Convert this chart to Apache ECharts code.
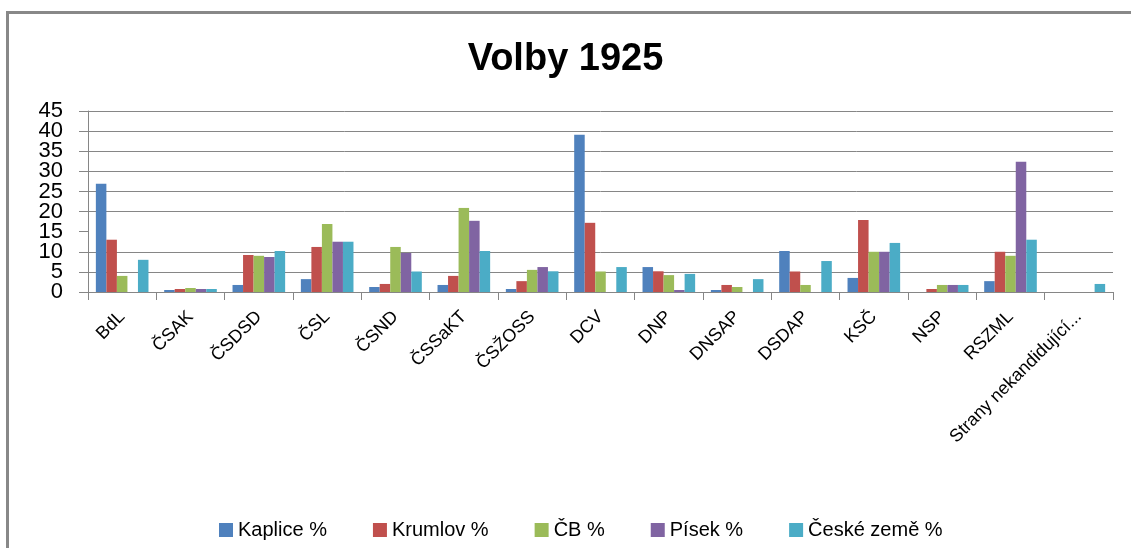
<!DOCTYPE html>
<html>
<head>
<meta charset="utf-8">
<script src="https://cdn.jsdelivr.net/npm/echarts@6/dist/echarts.min.js"></script>
<style>
  html, body { margin: 0; padding: 0; background: #fff; }
  #chart-container { width: 1131px; height: 548px; }
</style>
</head>
<body>
<div id="chart-container"></div>
<script>
var categories = ["BdL", "ČSAK", "ČSDSD", "ČSL", "ČSND", "ČSSaKT", "ČSŽOSS", "DCV",
  "DNP", "DNSAP", "DSDAP", "KSČ", "NSP", "RSZML", "Strany nekandidující..."];
var seriesNames = ["Kaplice %", "Krumlov %", "ČB %", "Písek %", "České země %"];
var kaplice = [26.9, 0.5, 1.75, 3.2, 1.25, 1.75, 0.75, 39.1, 6.2, 0.5, 10.2, 3.5, 0, 2.7, 0];
var krumlov = [13.0, 0.75, 9.2, 11.2, 2.0, 4.0, 2.7, 17.2, 5.15, 1.75, 5.1, 17.9, 0.75, 10.0, 0];
var cb = [4.0, 1.0, 9.0, 16.9, 11.2, 20.9, 5.5, 5.1, 4.2, 1.25, 1.75, 10.0, 1.75, 9.0, 0];
var pisek = [0, 0.75, 8.7, 12.5, 9.7, 17.7, 6.2, 0, 0.5, 0, 0, 10.0, 1.75, 32.4, 0];
var ceskeZeme = [8.0, 0.75, 10.2, 12.5, 5.1, 10.2, 5.15, 6.2, 4.5, 3.2, 7.7, 12.2, 1.75, 13.0, 2.0];
var yTicks = [0, 5, 10, 15, 20, 25, 30, 35, 40, 45];

var colors = ["#4F81BD", "#C0504D", "#9BBB59", "#8064A2", "#4BACC6"];
var values = [kaplice, krumlov, cb, pisek, ceskeZeme];
var font = "Liberation Sans";

var dom = document.getElementById("chart-container");
var myChart = echarts.init(dom, null, { renderer: "canvas" });

// the 15 gridline is absent in the original picture
var gridColors = yTicks.map(function (t) { return t === 15 ? "transparent" : "#868686"; });

// labels are packed tightly, so split them over two stacked axes (tens / fives)
function yLabels(showTens) {
  return {
    margin: 25, fontFamily: font, fontSize: 22, color: "#000",
    showMinLabel: true, showMaxLabel: true,
    formatter: function (v) {
      var isTen = v % 10 === 0;
      return isTen === showTens ? String(v) : "";
    }
  };
}

var option = {
  animation: false,
  color: colors,
  title: {
    text: "Volby 1925",
    left: "center",
    top: 36,
    textStyle: { fontFamily: font, fontSize: 38, fontWeight: "bold", color: "#000" }
  },
  legend: {
    data: seriesNames,
    left: 214,
    top: 515,
    itemWidth: 14,
    itemHeight: 14,
    itemGap: 46,
    icon: "rect",
    textStyle: { fontFamily: font, fontSize: 20, color: "#000" }
  },
  grid: { left: 88, right: 18, top: 111, bottom: 256, containLabel: false },
  xAxis: {
    type: "category",
    data: categories,
    axisLine: { lineStyle: { color: "#868686", width: 1 } },
    axisTick: { show: true, interval: 0, length: 8, lineStyle: { color: "#868686" } },
    axisLabel: {
      interval: 0,
      rotate: 45,
      margin: 22,
      fontFamily: font,
      fontSize: 18,
      color: "#000"
    }
  },
  yAxis: [
    {
      type: "value",
      min: 0,
      max: 45,
      interval: 5,
      axisLine: { show: true, lineStyle: { color: "#868686" } },
      axisTick: { show: true, length: 9, lineStyle: { color: "#868686" } },
      axisLabel: yLabels(true),
      splitLine: { show: true, lineStyle: { color: gridColors, width: 1 } }
    },
    {
      type: "value",
      position: "left",
      offset: 0,
      min: 0,
      max: 45,
      interval: 5,
      axisLine: { show: false },
      axisTick: { show: false },
      axisLabel: yLabels(false),
      splitLine: { show: false }
    }
  ],
  series: seriesNames.map(function (name, i) {
    return {
      name: name,
      type: "bar",
      data: values[i],
      barGap: "0%",
      barCategoryGap: "23%"
    };
  }),
  graphic: [
    { type: "rect", shape: { x: 6, y: 11, width: 1125, height: 3 }, style: { fill: "#888" } },
    { type: "rect", shape: { x: 6, y: 11, width: 3, height: 537 }, style: { fill: "#888" } }
  ]
};

if (option && typeof option === "object") {
  myChart.setOption(option);
}
</script>
</body>
</html>
